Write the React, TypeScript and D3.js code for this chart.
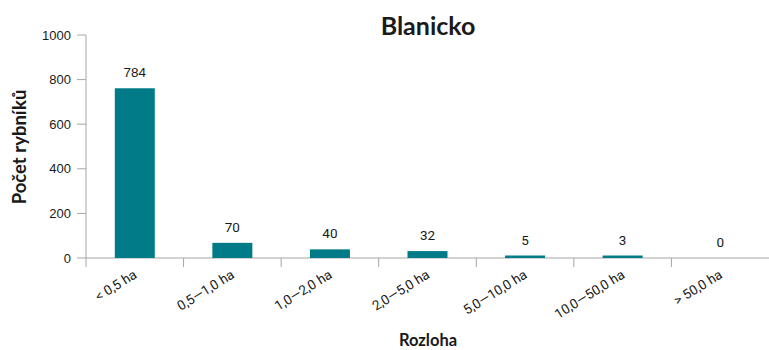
import React from "react";
import * as d3 from "d3";

const categories = ["< 0,5 ha", "0,5—1,0 ha", "1,0—2,0 ha", "2,0—5,0 ha", "5,0—10,0 ha", "10,0—50,0 ha", "> 50,0 ha"];
const values = [784, 70, 40, 32, 5, 3, 0];
const yTicks = [0, 200, 400, 600, 800, 1000];
const title = "Blanicko";
const yTitle = "Počet rybníků";
const xTitle = "Rozloha";

const W = 769;
const H = 350;
const left = 86;
const right = 769;
const top = 35;
const bottom = 258;
const teal = "#007b87";
const axisColor = "#a6a6a6";
const textColor = "#1a1a1a";

export default function App() {
  const x = d3.scaleBand<string>().domain(categories).range([left, right]).paddingInner(0).paddingOuter(0);
  const y = d3.scaleLinear().domain([0, 1000]).range([bottom, top]);
  // bars in the reference are drawn slightly shorter than the tick scale
  const yBar = d3.scaleLinear().domain([0, 1030]).range([bottom, top]);
  const barW = 40;
  const boundaries = categories.map((c) => x(c) as number);

  return (
    <svg width={W} height={H} style={{ position: "absolute", left: 0, top: 0, background: "#fff" }}>
      <text x={428} y={35} textAnchor="middle" fontFamily="Lato" fontWeight={700} fontSize={25} fill={textColor}>
        {title}
      </text>
      {/* y axis */}
      <line x1={left} x2={left} y1={top} y2={bottom} stroke={axisColor} strokeWidth={1} />
      {yTicks.map((t) => (
        <g key={t}>
          <line x1={left - 9} x2={left} y1={y(t)} y2={y(t)} stroke={axisColor} strokeWidth={1} />
          <text x={71} y={y(t) + 4.5} textAnchor="end" fontFamily="Liberation Sans" fontSize={13} fill={textColor}>
            {t}
          </text>
        </g>
      ))}
      <text
        transform={`translate(26,${147}) rotate(-90)`}
        textAnchor="middle"
        fontFamily="Lato"
        fontWeight={700}
        fontSize={18.5}
        fill={textColor}
      >
        {yTitle}
      </text>
      {/* x axis */}
      <line x1={left} x2={right} y1={bottom} y2={bottom} stroke={axisColor} strokeWidth={1} />
      {boundaries.map((b, i) => (
        <line key={i} x1={b} x2={b} y1={bottom} y2={bottom + 9} stroke={axisColor} strokeWidth={1} />
      ))}
      {categories.map((c, i) => {
        const cx = (x(c) as number) + x.bandwidth() / 2;
        const v = values[i];
        const h = v > 0 ? Math.max(2.5, bottom - yBar(v)) : 0;
        return (
          <g key={c}>
            <rect x={cx - barW / 2} y={bottom - h} width={barW} height={h} fill={teal} />
            <text
              x={cx}
              y={bottom - h - 11}
              textAnchor="middle"
              fontFamily={i === 0 ? "Liberation Sans" : "Roboto"}
              fontSize={13.5}
              fill={textColor}
            >
              {v}
            </text>
            <text
              transform={`translate(${cx + 3},${277}) rotate(-32)`}
              textAnchor="end"
              fontFamily="Roboto"
              fontSize={13.5}
              fill={textColor}
            >
              {c}
            </text>
          </g>
        );
      })}
      <text x={428} y={346} textAnchor="middle" fontFamily="Lato" fontWeight={700} fontSize={16.5} fill={textColor}>
        {xTitle}
      </text>
    </svg>
  );
}
